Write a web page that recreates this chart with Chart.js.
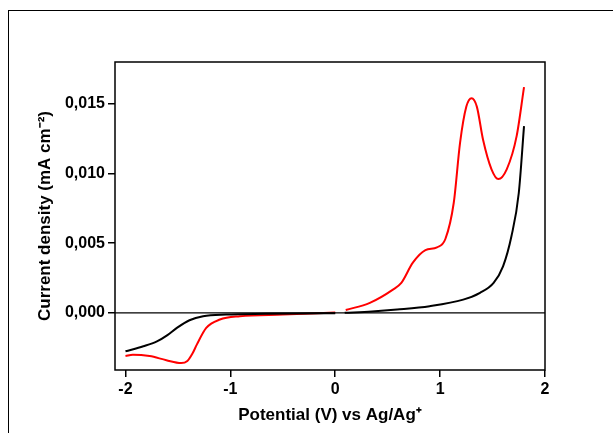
<!DOCTYPE html>
<html>
<head>
<meta charset="utf-8">
<script src="https://cdn.jsdelivr.net/npm/chart.js@4/dist/chart.umd.min.js"></script>
<style>
    html, body { margin: 0; padding: 0; background: #fff; overflow: hidden; }
    #wrap { position: relative; width: 613px; height: 433px; }
    #frame { position: absolute; left: 8px; top: 10px; width: 700px; height: 500px; border: 1.5px solid #000; }
    canvas { position: absolute; left: 0; top: 0; }
</style>
</head>
<body>
<div id="wrap">
    <div id="frame"></div>
    <canvas id="graph" width="613" height="433"></canvas>
</div>
<script>
// black scan (blank electrode), left and right branches
var blackLeftX = [-2.0, -1.83, -1.7, -1.6, -1.51, -1.39, -1.26, -1.04, -0.66, -0.3, 0.0];
var blackLeftY = [-0.00276, -0.0024, -0.00205, -0.0016, -0.00108, -0.00053, -0.00024, -0.00012, -0.00007, -0.00004, -0.00002];
var blackRightX = [0.09, 0.35, 0.59, 0.9, 1.22, 1.38, 1.51, 1.6, 1.68, 1.75, 1.8];
var blackRightY = [0.0, 0.0001, 0.00024, 0.00048, 0.00095, 0.00144, 0.00215, 0.00334, 0.0055, 0.0086, 0.0134];

// red scan (with film), left and right branches
var redLeftX = [-2.0, -1.93, -1.77, -1.61, -1.47, -1.41, -1.36, -1.32, -1.23, -1.1, -0.91, -0.5, 0.0];
var redLeftY = [-0.0031, -0.003, -0.0031, -0.0034, -0.0036, -0.00345, -0.0029, -0.00228, -0.00108, -0.00048, -0.00024, -0.00012, 0.00002];
var redRightX = [0.1, 0.33, 0.55, 0.63, 0.74, 0.86, 0.97, 1.05, 1.13, 1.19, 1.25, 1.3, 1.35, 1.41, 1.49, 1.555, 1.635, 1.73, 1.8];
var redRightY = [0.0002, 0.00072, 0.00167, 0.00215, 0.0036, 0.0045, 0.0047, 0.0053, 0.0079, 0.0122, 0.0148, 0.0154, 0.0148, 0.0124, 0.0103, 0.0096, 0.0103, 0.0127, 0.0162];

var xTicks = [-2, -1, 0, 1, 2];
var yTicks = [0, 0.005, 0.010, 0.015];

function toPoints(xs, ys) {
    return xs.map(function (x, i) {
        return { x: x, y: ys[i] };
    });
}

function series(xs, ys, color) {
    return {
        data: toPoints(xs, ys),
        borderColor: color,
        borderWidth: 2,
        pointRadius: 0,
        fill: false,
        cubicInterpolationMode: 'monotone'
    };
}

// plot box and zero line
var boxPlugin = {
    id: 'box',
    afterDraw: function (chart) {
        var a = chart.chartArea;
        var c = chart.ctx;
        var y0 = chart.scales.y.getPixelForValue(0);
        c.save();
        c.strokeStyle = '#000';
        c.lineWidth = 1.5;
        c.strokeRect(a.left, a.top, a.right - a.left, a.bottom - a.top);
        c.lineWidth = 1.2;
        c.beginPath();
        c.moveTo(a.left, y0);
        c.lineTo(a.right, y0);
        c.stroke();
        c.restore();
    }
};

var tickFont = { family: 'Liberation Sans, Arial, sans-serif', size: 16, weight: 'bold' };
var titleFont = { family: 'Liberation Sans, Arial, sans-serif', size: 17, weight: 'bold' };

var ctx = document.getElementById('graph').getContext('2d');
var chart = new Chart(ctx, {
    type: 'line',
    data: {
        datasets: [
            series(blackLeftX, blackLeftY, '#000000'),
            series(blackRightX, blackRightY, '#000000'),
            series(redLeftX, redLeftY, '#ff0000'),
            series(redRightX, redRightY, '#ff0000')
        ]
    },
    plugins: [boxPlugin],
    options: {
        responsive: false,
        animation: false,
        layout: { padding: { top: 62, right: 68, left: 35, bottom: 0 } },
        plugins: { legend: { display: false }, tooltip: { enabled: false } },
        scales: {
            x: {
                type: 'linear',
                min: -2.1,
                max: 2.0,
                afterBuildTicks: function (s) {
                    s.ticks = xTicks.map(function (v) { return { value: v }; });
                },
                afterFit: function (s) { s.height = 63; },
                grid: { drawOnChartArea: false, color: '#000', tickLength: 7, lineWidth: 1.5 },
                border: { display: false },
                ticks: {
                    color: '#000',
                    font: tickFont,
                    padding: 3,
                    maxRotation: 0,
                    callback: function (v) { return String(v); }
                },
                title: {
                    display: true,
                    text: 'Potential (V) vs Ag/Ag\u207A',
                    color: '#000',
                    font: titleFont,
                    padding: { top: 0, bottom: 7 }
                }
            },
            y: {
                type: 'linear',
                min: -0.0041,
                max: 0.018,
                afterBuildTicks: function (s) {
                    s.ticks = yTicks.map(function (v) { return { value: v }; });
                },
                afterFit: function (s) { s.width = 80; },
                grid: { drawOnChartArea: false, color: '#000', tickLength: 7, lineWidth: 1.5 },
                border: { display: false },
                ticks: {
                    color: '#000',
                    font: tickFont,
                    padding: 3,
                    callback: function (v) { return v.toFixed(3).replace('.', ','); }
                },
                title: {
                    display: true,
                    text: 'Current density (mA cm\u207B\u00B2)',
                    color: '#000',
                    font: titleFont,
                    padding: { top: 0, bottom: 4 }
                }
            }
        }
    }
});
</script>
</body>
</html>
